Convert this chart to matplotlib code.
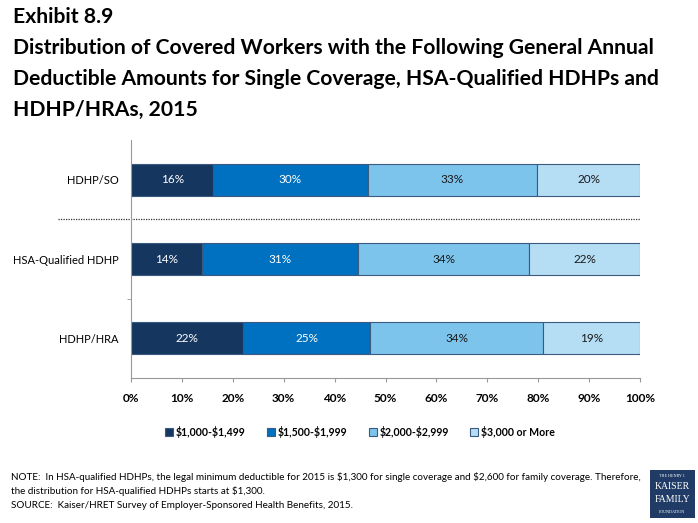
import matplotlib
matplotlib.use("Agg")
import matplotlib.pyplot as plt
import numpy as np

plt.rcParams['font.family'] = ['Lato', 'DejaVu Sans']

# dados
categorias = ['HDHP/SO', 'HSA-Qualified HDHP', 'HDHP/HRA']
faixas = [r'\$1,000-\$1,499', r'\$1,500-\$1,999', r'\$2,000-\$2,999', r'\$3,000 or More']
valores = [
    [16, 30, 33, 20],
    [14, 31, 34, 22],
    [22, 25, 34, 19],
]
cores = ['#15375F', '#0070C0', '#7DC4EC', '#B5DEF4']
cor_texto = ['white', 'white', '#1a1a1a', '#1a1a1a']

fig = plt.figure(figsize=(6.98, 5.23), dpi=100)
ax = fig.add_axes([0.1877, 0.2772, 0.7292, 0.4551])

y = np.arange(len(categorias))
for i, cat in enumerate(categorias):
    v = np.array(valores[i], dtype=float)
    v = v / v.sum() * 100  # barras vao ate 100%
    esq = 0
    for j in range(len(faixas)):
        ax.barh(y[i], v[j], left=esq, height=0.4, color=cores[j],
                edgecolor='#3A5A80', linewidth=0.8,
                label=faixas[j] if i == 0 else None)
        ax.text(esq + v[j] / 2, y[i], str(valores[i][j]) + '%', ha='center',
                va='center', fontsize=8.5, color=cor_texto[j])
        esq += v[j]

ax.set_xlim(0, 100)
ax.set_ylim(2.5, -0.5)
ax.set_yticks(y)
ax.set_yticklabels(categorias, fontsize=8)
ax.tick_params(axis='y', length=0, pad=9)
ax.set_yticks([1.5], minor=True)
ax.tick_params(axis='y', which='minor', length=3, color='#999999')
ax.set_xticks(np.arange(0, 101, 10))
ax.set_xticklabels([str(t) + '%' for t in range(0, 101, 10)], fontsize=8.5,
                   fontweight='bold')
ax.tick_params(axis='x', length=3, color='#999999', pad=8)
for s in ['top', 'right']:
    ax.spines[s].set_visible(False)
ax.spines['left'].set_color('#999999')
ax.spines['bottom'].set_color('#999999')

# linha pontilhada separando HDHP/SO
ax.plot([-14.3, 100], [0.5, 0.5], color='#333333', linestyle=(0, (1, 1)),
        linewidth=0.9, clip_on=False)

fig.legend(loc='center', bbox_to_anchor=(0.516, 0.174), ncol=4, frameon=False,
           prop={'weight': 'bold', 'size': 7.6},
           handlelength=0.75, handleheight=0.75, handletextpad=0.3,
           columnspacing=2.0)

# titulo
fig.text(0.019, 0.967, 'Exhibit 8.9', fontsize=15.2, fontweight='bold', va='center')
titulo = ['Distribution of Covered Workers with the Following General Annual',
          'Deductible Amounts for Single Coverage, HSA-Qualified HDHPs and',
          'HDHP/HRAs, 2015']
for k, linha in enumerate(titulo):
    fig.text(0.019, 0.908 - k * 0.0595, linha, fontsize=15.2, fontweight='bold',
             va='center')

# notas
fig.text(0.016, 0.088, r'NOTE:  In HSA-qualified HDHPs, the legal minimum deductible for 2015 is \$1,300 '
         r'for single coverage and \$2,600 for family coverage. Therefore,',
         fontsize=7.1, va='center')
fig.text(0.016, 0.061, r'the distribution for HSA-qualified HDHPs starts at \$1,300.',
         fontsize=7.1, va='center')
fig.text(0.016, 0.033, 'SOURCE:  Kaiser/HRET Survey of Employer-Sponsored Health Benefits, 2015.',
         fontsize=7.1, va='center')

# logo
lx = fig.add_axes([0.931, 0.01, 0.064, 0.092])
lx.set_xlim(0, 1)
lx.set_ylim(0, 1)
lx.axis('off')
lx.add_patch(plt.Rectangle((0, 0), 1, 1, color='#1F3B66'))
lx.text(0.5, 0.86, 'THE HENRY J.', color='white', fontsize=3, ha='center',
        va='center', family='Liberation Serif')
lx.text(0.5, 0.64, 'KAISER', color='white', fontsize=7, ha='center',
        va='center', family='Liberation Serif')
lx.text(0.5, 0.38, 'FAMILY', color='white', fontsize=7, ha='center',
        va='center', family='Liberation Serif')
lx.text(0.5, 0.13, 'FOUNDATION', color='white', fontsize=3, ha='center',
        va='center', family='Liberation Serif')

fig.savefig('out.png', dpi=100)
